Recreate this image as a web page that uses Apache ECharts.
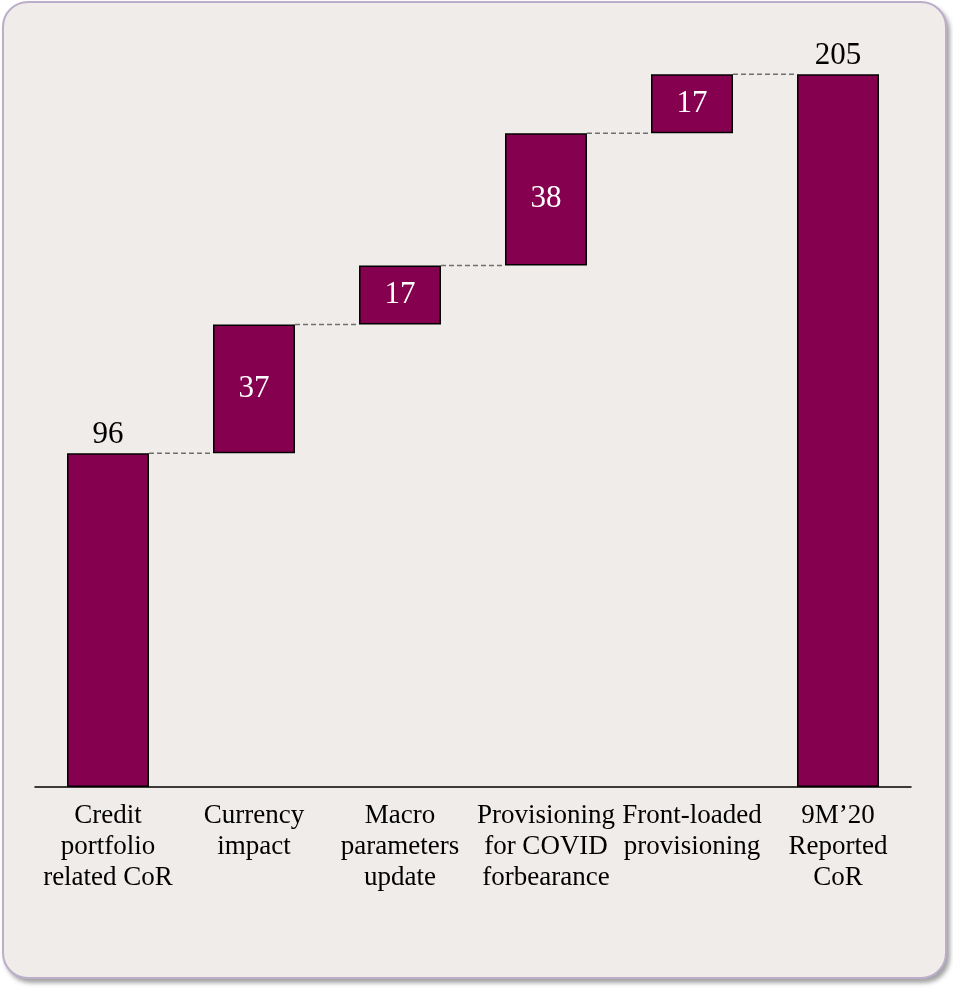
<!DOCTYPE html>
<html>
<head>
<meta charset="utf-8">
<script src="https://cdn.jsdelivr.net/npm/echarts@6/dist/echarts.min.js"></script>
<style>
  html, body { margin: 0; padding: 0; background: #ffffff; }
  #panel {
    position: absolute; left: 2px; top: 1px; width: 945px; height: 978px;
    background: #f0ecea; border: 2px solid #bcaec9; border-radius: 26px;
    box-shadow: 3px 4px 4px rgba(90, 90, 90, 0.55);
    box-sizing: border-box;
  }
  #chart { position: absolute; left: 0; top: 0; width: 953px; height: 988px; }
</style>
</head>
<body>
<div id="panel"></div>
<div id="chart"></div>
<script>
// Cost of risk bridge, bps
const categories = [
  'Credit\nportfolio\nrelated CoR',
  'Currency\nimpact',
  'Macro\nparameters\nupdate',
  'Provisioning\nfor COVID\nforbearance',
  'Front-loaded\nprovisioning',
  '9M\u201920\nReported\nCoR'
];
const values = [96, 37, 17, 38, 17, 205];
const isTotal = [true, false, false, false, false, true];

// invisible base under each step, and the running level after each bar
const bases = [];
const levels = [];
let running = 0;
values.forEach((v, i) => {
  if (isTotal[i]) { bases.push(0); running = v; }
  else { bases.push(running); running += v; }
  levels.push(running);
});
// connector from bar i to bar i+1 at the level reached after bar i
const connectors = levels.slice(0, -1).map((lv, i) => [i, lv]);

const BAR = '#85004f';
const FONT = '"Liberation Serif", "Times New Roman", serif';

const chart = echarts.init(document.getElementById('chart'));
chart.setOption({
  backgroundColor: 'transparent',
  animation: false,
  grid: { left: 35, right: 42, top: 22, bottom: 201 },
  xAxis: {
    type: 'category',
    data: categories,
    axisLine: { lineStyle: { color: '#000', width: 1.5 } },
    axisTick: { show: false },
    axisLabel: {
      color: '#000', fontFamily: FONT, fontSize: 27, lineHeight: 31,
      margin: 13, interval: 0
    }
  },
  yAxis: {
    type: 'value', min: 0, max: 220,
    show: false, splitLine: { show: false }
  },
  series: [
    {
      type: 'bar', stack: 'w', barWidth: 82, silent: true,
      itemStyle: { color: 'transparent' },
      data: bases
    },
    {
      type: 'bar', stack: 'w', barWidth: 82,
      itemStyle: { color: BAR, borderColor: '#000', borderWidth: 1.5 },
      data: values.map((v, i) => ({
        value: v,
        label: isTotal[i]
          ? { show: true, position: 'top', color: '#000', distance: 3 }
          : { show: true, position: 'inside', color: '#fff' }
      })),
      label: { fontFamily: FONT, fontSize: 31 }
    },
    {
      type: 'custom',
      silent: true,
      data: connectors,
      z: 1,
      renderItem: function (params, api) {
        const i = api.value(0);
        const lv = api.value(1);
        const p1 = api.coord([i, lv]);
        const p2 = api.coord([i + 1, lv]);
        const half = 41;
        return {
          type: 'line',
          shape: { x1: p1[0] + half, y1: p1[1], x2: p2[0] - half, y2: p2[1] },
          style: { stroke: '#6f6f6f', lineWidth: 1.5, lineDash: [5, 3] }
        };
      }
    }
  ]
});
</script>
</body>
</html>
